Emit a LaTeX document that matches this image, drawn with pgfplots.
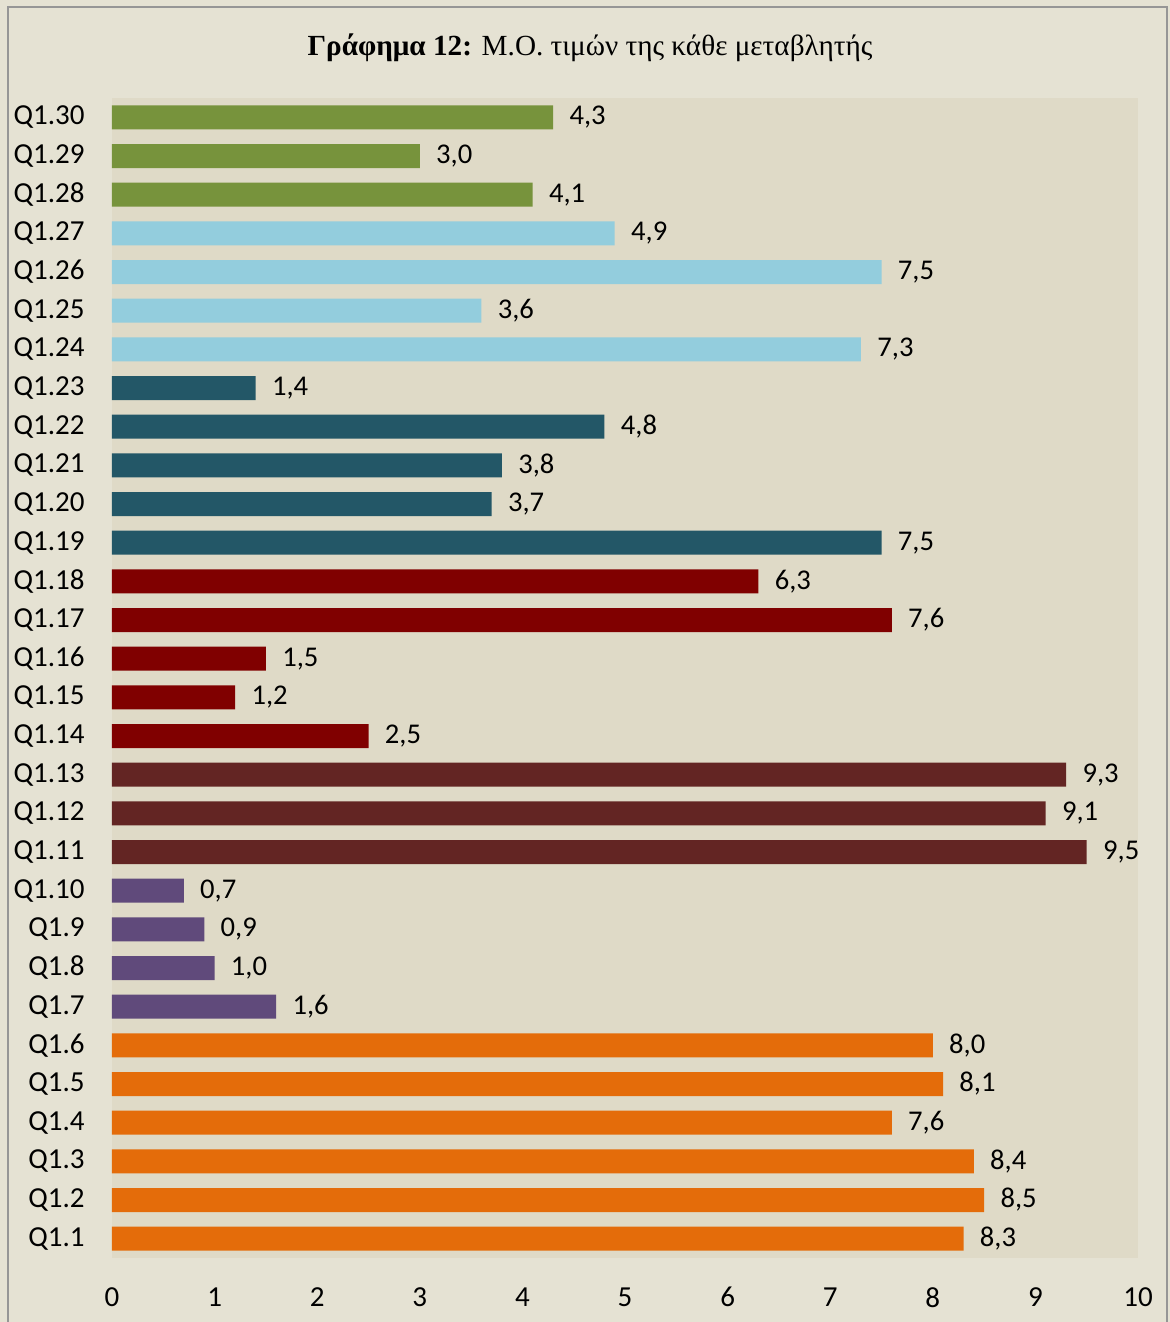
\documentclass[border=0pt]{standalone}
\usepackage{fontspec}
\setmainfont{Carlito}
\newfontfamily\titlefont{Liberation Serif}
\usepackage{pgfplots}
\pgfplotsset{compat=1.18}

\definecolor{outerbg}{RGB}{229,226,211}
\definecolor{plotbg}{RGB}{223,218,199}
\definecolor{framegray}{RGB}{150,150,150}
\definecolor{cgreen}{RGB}{119,147,60}
\definecolor{clblue}{RGB}{147,205,221}
\definecolor{cteal}{RGB}{35,87,103}
\definecolor{cmaroon}{RGB}{128,0,0}
\definecolor{cbrown}{RGB}{99,37,35}
\definecolor{cpurple}{RGB}{96,74,123}
\definecolor{corange}{RGB}{228,108,10}

\begin{document}
\begin{tikzpicture}
\path[use as bounding box] (0,0) rectangle (585pt,-661pt);
\fill[outerbg] (0,0) rectangle (585pt,-661pt);
\draw[framegray, line width=1pt] (4pt,-670pt) -- (4pt,-3.5pt) -- (583.5pt,-3.5pt) -- (583.5pt,-670pt);
\node[font=\titlefont\fontsize{14.6}{17}\selectfont] at (295pt,-24pt)
  {\textbf{Γράφημα 12:} Μ.Ο. τιμών της κάθε μεταβλητής};

\begin{axis}[
    at={(56pt,-629pt)}, anchor=south west,
    scale only axis,
    width=513pt, height=580pt,
    xbar, bar width=12pt, bar shift=0pt,
    xmin=0, xmax=10, ymin=0.5, ymax=30.5,
    xtick={0,...,10},
    ytick={1,...,30},
    yticklabels={Q1.1,Q1.2,Q1.3,Q1.4,Q1.5,Q1.6,Q1.7,Q1.8,Q1.9,Q1.10,
                 Q1.11,Q1.12,Q1.13,Q1.14,Q1.15,Q1.16,Q1.17,Q1.18,Q1.19,Q1.20,
                 Q1.21,Q1.22,Q1.23,Q1.24,Q1.25,Q1.26,Q1.27,Q1.28,Q1.29,Q1.30},
    axis background/.style={fill=plotbg},
    axis line style={draw=none},
    tick style={draw=none},
    major tick length=0pt,
    /pgf/number format/assume math mode=true,
    tick label style={font=\fontsize{14.5}{17}\selectfont},
    yticklabel style={anchor=east, inner sep=0pt, xshift=-13.5pt},
    xticklabel style={anchor=north, inner sep=0pt, yshift=-14.5pt},
    point meta=x,
    nodes near coords={\pgfmathprintnumber[fixed,fixed zerofill,precision=1,use comma,assume math mode=true]{\pgfplotspointmeta}},
    nodes near coords style={anchor=west, inner sep=0pt, xshift=8pt,
        font=\fontsize{14.3}{17}\selectfont, text=black},
]
% Q1.1-Q1.6
\addplot[draw=none, fill=corange] coordinates {(8.3,1) (8.5,2) (8.4,3) (7.6,4) (8.1,5) (8.0,6)};
% Q1.7-Q1.10
\addplot[draw=none, fill=cpurple] coordinates {(1.6,7) (1.0,8) (0.9,9) (0.7,10)};
% Q1.11-Q1.13
\addplot[draw=none, fill=cbrown] coordinates {(9.5,11) (9.1,12) (9.3,13)};
% Q1.14-Q1.18
\addplot[draw=none, fill=cmaroon] coordinates {(2.5,14) (1.2,15) (1.5,16) (7.6,17) (6.3,18)};
% Q1.19-Q1.23
\addplot[draw=none, fill=cteal] coordinates {(7.5,19) (3.7,20) (3.8,21) (4.8,22) (1.4,23)};
% Q1.24-Q1.27
\addplot[draw=none, fill=clblue] coordinates {(7.3,24) (3.6,25) (7.5,26) (4.9,27)};
% Q1.28-Q1.30
\addplot[draw=none, fill=cgreen] coordinates {(4.1,28) (3.0,29) (4.3,30)};
\end{axis}
\end{tikzpicture}
\end{document}
